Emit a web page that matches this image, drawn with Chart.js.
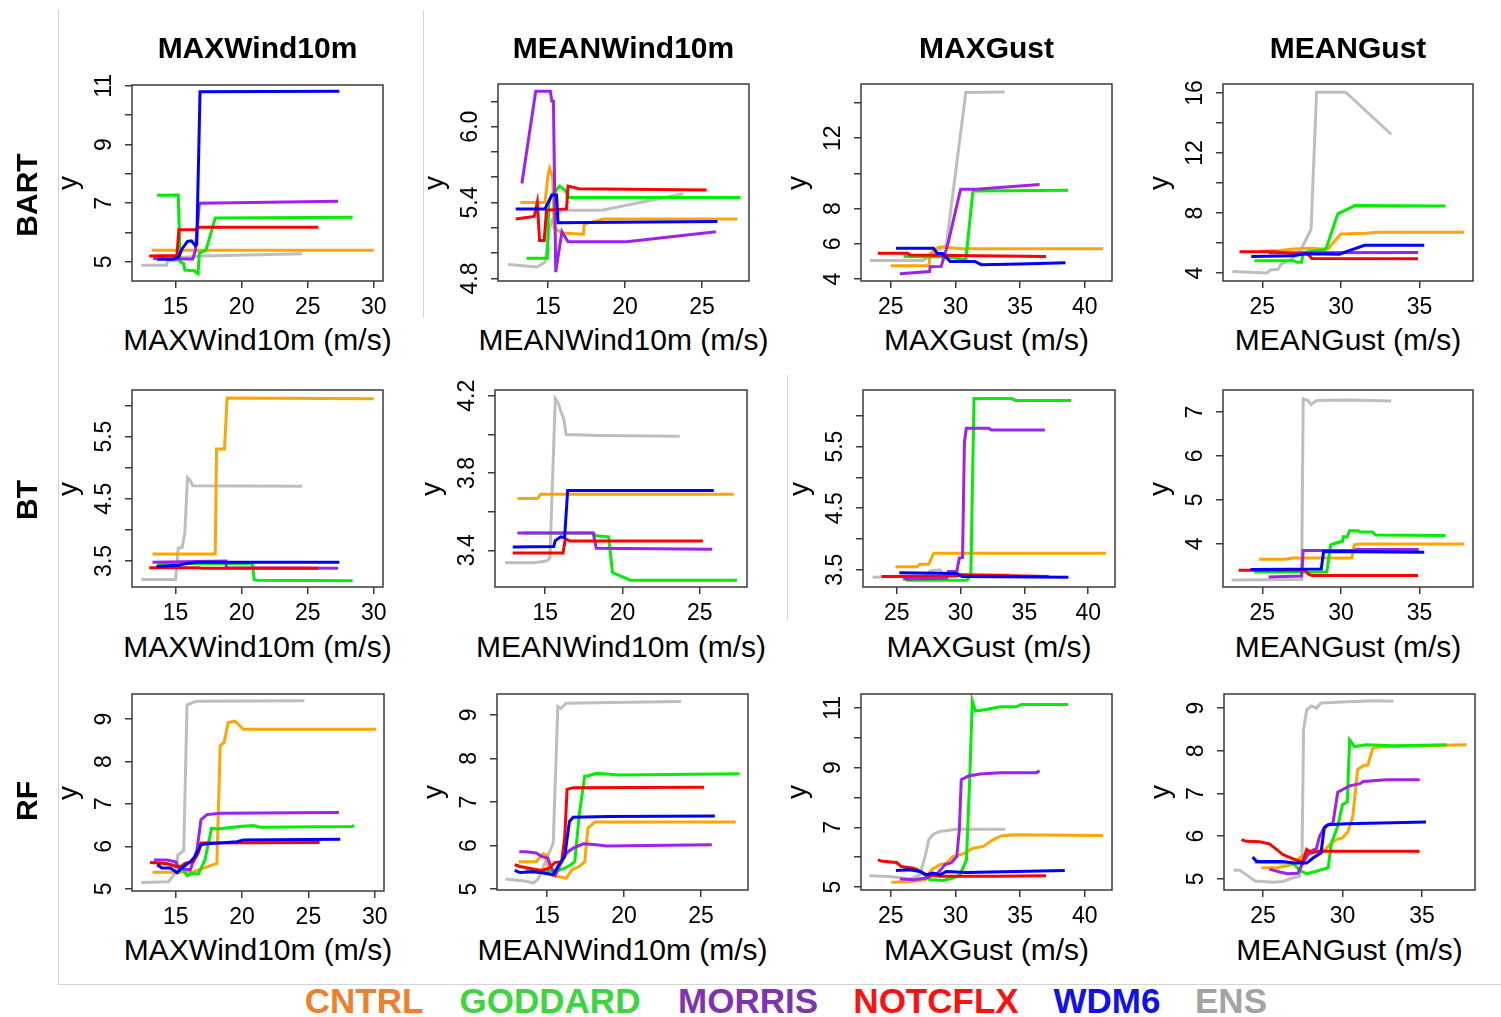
<!DOCTYPE html>
<html>
<head>
<meta charset="utf-8">
<script src="https://cdn.jsdelivr.net/npm/chart.js@4.4.1/dist/chart.umd.min.js"></script>
<style>
  body { margin: 0; background: #fff; width: 1501px; height: 1017px; position: relative; overflow: hidden; font-family: "Liberation Sans", Arial, sans-serif; }
  canvas { position: absolute; }
  .t { position: absolute; white-space: nowrap; color: #000; transform: translate(-50%, -50%); line-height: 1; }
  .v { transform: translate(-50%, -50%) rotate(-90deg); }
  .b { font-weight: bold; }
  .sep { position: absolute; background: #d4d4d4; }
</style>
</head>
<body>
<script>
// model names and legend
const models = ["CNTRL", "GODDARD", "MORRIS", "NOTCFLX", "WDM6", "ENS"];
const columns = ["MAXWind10m", "MEANWind10m", "MAXGust", "MEANGust"];
const rows = ["BART", "BT", "RF"];

// x ticks per predictor
const windTicks = [15, 20, 25, 30];
const meanWindTicks = [15, 20, 25];
const gustTicks = [25, 30, 35, 40];
const meanGustTicks = [25, 30, 35];

// ---- BART ----
const bartMaxWind_CNTRL = [[13.2,5.4],[15.1,5.4],[15.3,5.47],[15.6,5.4],[30.0,5.4]];
const bartMaxWind_GODDARD = [[13.6,7.27],[15.2,7.28],[15.35,5.0],[15.6,4.95],[15.7,4.72],[16.4,4.7],[16.7,4.6],[16.8,5.3],[17.3,5.4],[18.0,6.5],[28.4,6.52]];
const bartMaxWind_MORRIS = [[13.3,5.12],[15.4,5.1],[16.3,5.1],[16.5,5.4],[16.8,7.0],[27.3,7.07]];
const bartMaxWind_NOTCFLX = [[13.0,5.2],[15.1,5.22],[15.25,6.1],[16.5,6.1],[16.8,6.18],[25.8,6.18]];
const bartMaxWind_WDM6 = [[13.6,5.09],[14.8,5.09],[15.2,5.15],[15.5,5.45],[15.9,5.7],[16.2,5.72],[16.5,5.55],[16.6,5.6],[16.85,10.8],[27.4,10.82]];
const bartMaxWind_ENS = [[12.4,4.89],[14.3,4.89],[14.4,5.03],[15.2,5.05],[15.5,5.15],[17.0,5.2],[24.6,5.28]];

const bartMeanWind_CNTRL = [[13.2,5.4],[14.8,5.4],[15.0,5.62],[15.1,5.67],[15.3,5.6],[15.4,5.2],[15.9,5.16],[17.3,5.15],[17.35,5.23],[18.6,5.27],[27.3,5.27]];
const bartMeanWind_GODDARD = [[13.6,4.96],[14.95,4.96],[15.05,5.4],[15.2,5.45],[15.75,5.53],[16.1,5.5],[16.35,5.44],[27.5,5.44]];
const bartMeanWind_MORRIS = [[13.3,5.55],[14.2,6.28],[15.15,6.28],[15.25,6.2],[15.35,6.2],[15.5,4.85],[15.9,5.17],[16.3,5.09],[20.1,5.09],[25.9,5.17]];
const bartMeanWind_NOTCFLX = [[12.9,5.27],[14.1,5.29],[14.3,5.4],[14.45,5.1],[14.75,5.1],[14.9,5.34],[16.2,5.35],[16.3,5.53],[17.0,5.51],[25.3,5.5]];
const bartMeanWind_WDM6 = [[12.9,5.35],[14.8,5.35],[15.25,5.46],[15.55,5.46],[15.65,5.24],[26.0,5.25]];
const bartMeanWind_ENS = [[12.4,4.91],[14.3,4.89],[14.8,4.93],[15.1,5.2],[15.3,5.27],[15.7,5.32],[16.0,5.34],[18.5,5.34],[23.8,5.47]];

const bartMaxGust_CNTRL = [[25.0,4.75],[27.95,4.75],[28.05,5.45],[28.7,5.8],[29.2,5.8],[30.5,5.72],[41.4,5.72]];
const bartMaxGust_GODDARD = [[26.0,5.28],[29.5,5.25],[30.8,5.1],[31.35,9.0],[38.7,9.05]];
const bartMaxGust_MORRIS = [[25.7,4.3],[28.0,4.43],[28.05,4.7],[28.9,4.72],[29.4,5.95],[30.4,9.1],[31.6,9.1],[36.5,9.37]];
const bartMaxGust_NOTCFLX = [[24.0,5.47],[26.3,5.47],[26.5,5.37],[37.0,5.28]];
const bartMaxGust_WDM6 = [[25.4,5.75],[28.3,5.75],[28.6,5.45],[29.0,5.45],[29.6,5.0],[31.5,5.0],[32.0,4.82],[35.0,4.85],[38.5,4.93]];
const bartMaxGust_ENS = [[23.4,5.05],[27.5,5.05],[29.3,5.95],[30.8,14.6],[33.8,14.62]];

const bartMeanGust_CNTRL = [[24.85,5.45],[26.1,5.5],[27.0,5.6],[28.0,5.66],[28.9,5.6],[29.2,5.65],[30.0,6.6],[31.6,6.65],[32.3,6.72],[37.85,6.72]];
const bartMeanGust_GODDARD = [[24.5,4.82],[27.0,4.82],[27.2,4.72],[27.5,4.72],[27.6,5.37],[28.9,5.55],[29.05,5.6],[29.8,7.95],[30.9,8.5],[36.65,8.47]];
const bartMeanGust_MORRIS = [[25.4,5.35],[34.9,5.37]];
const bartMeanGust_NOTCFLX = [[23.55,5.42],[25.7,5.42],[27.2,5.27],[27.9,5.27],[28.15,4.97],[34.9,4.95]];
const bartMeanGust_WDM6 = [[24.3,5.1],[27.0,5.15],[27.6,5.27],[29.0,5.27],[29.9,5.26],[30.4,5.45],[31.5,5.85],[35.3,5.85]];
const bartMeanGust_ENS = [[23.1,4.11],[24.2,4.05],[25.3,4.0],[25.5,4.2],[26.0,4.25],[26.2,4.6],[26.8,4.9],[27.4,5.45],[28.1,6.9],[28.45,16.05],[30.3,16.05],[33.2,13.25]];

// ---- BT ----
const btMaxWind_CNTRL = [[13.25,3.61],[18.0,3.61],[18.1,5.3],[18.7,5.3],[18.9,6.12],[30.0,6.11]];
const btMaxWind_GODDARD = [[13.6,3.46],[20.8,3.46],[20.95,3.2],[21.2,3.19],[28.4,3.18]];
const btMaxWind_MORRIS = [[13.25,3.48],[18.8,3.5],[18.85,3.39],[27.3,3.38]];
const btMaxWind_NOTCFLX = [[13.0,3.39],[16.8,3.39],[17.0,3.38],[25.8,3.38]];
const btMaxWind_WDM6 = [[13.55,3.41],[15.3,3.43],[15.6,3.45],[16.6,3.48],[27.4,3.48]];
const btMaxWind_ENS = [[12.4,3.2],[15.0,3.2],[15.2,3.7],[15.5,3.72],[15.7,3.95],[15.9,4.84],[16.1,4.8],[16.3,4.71],[24.6,4.7]];

const btMeanWind_CNTRL = [[13.2,3.668],[14.5,3.668],[14.7,3.69],[27.2,3.69]];
const btMeanWind_GODDARD = [[13.6,3.49],[18.1,3.49],[18.3,3.475],[19.1,3.47],[19.35,3.285],[20.5,3.245],[27.4,3.245]];
const btMeanWind_MORRIS = [[13.2,3.49],[18.1,3.49],[18.3,3.41],[25.8,3.405]];
const btMeanWind_NOTCFLX = [[12.9,3.386],[16.15,3.386],[16.3,3.46],[16.6,3.448],[25.2,3.448]];
const btMeanWind_WDM6 = [[12.9,3.417],[15.55,3.42],[15.65,3.45],[16.0,3.47],[16.25,3.465],[16.45,3.71],[25.9,3.71]];
const btMeanWind_ENS = [[12.4,3.335],[14.25,3.335],[15.1,3.345],[15.3,3.36],[15.65,4.185],[15.85,4.16],[16.05,4.11],[16.2,4.08],[16.35,4.0],[18.5,3.995],[23.7,3.99]];

const btMaxGust_CNTRL = [[24.9,3.55],[26.6,3.55],[26.8,3.59],[27.5,3.59],[27.9,3.77],[41.4,3.77]];
const btMaxGust_GODDARD = [[25.7,3.33],[30.5,3.33],[30.8,3.42],[31.05,6.28],[34.0,6.28],[34.3,6.25],[38.65,6.25]];
const btMaxGust_MORRIS = [[25.5,3.35],[28.9,3.36],[29.05,3.47],[29.7,3.47],[29.9,3.69],[30.15,3.7],[30.3,5.58],[30.45,5.8],[32.2,5.8],[32.4,5.77],[36.6,5.77]];
const btMaxGust_NOTCFLX = [[23.8,3.39],[29.7,3.4],[30.0,3.42],[36.9,3.39]];
const btMaxGust_WDM6 = [[25.2,3.45],[29.7,3.44],[30.1,3.39],[38.45,3.38]];
const btMaxGust_ENS = [[23.1,3.38],[27.3,3.4],[27.6,3.48],[28.4,3.5],[28.6,3.42],[33.8,3.42]];

const btMeanGust_CNTRL = [[24.8,3.65],[26.5,3.65],[26.9,3.68],[30.7,3.68],[30.85,3.98],[31.2,4.0],[37.85,4.0]];
const btMeanGust_GODDARD = [[24.5,3.36],[29.1,3.36],[29.35,3.98],[29.7,4.02],[30.1,4.06],[30.15,4.16],[30.4,4.16],[30.55,4.3],[31.1,4.3],[31.2,4.27],[32.0,4.27],[32.2,4.2],[36.65,4.19]];
const btMeanGust_MORRIS = [[25.4,3.25],[27.5,3.27],[27.6,3.85],[30.8,3.85],[31.0,3.87],[34.95,3.87]];
const btMeanGust_NOTCFLX = [[23.5,3.4],[27.7,3.4],[27.95,3.31],[28.15,3.28],[34.9,3.28]];
const btMeanGust_WDM6 = [[24.25,3.42],[28.75,3.43],[28.9,3.83],[35.3,3.81]];
const btMeanGust_ENS = [[23.05,3.18],[27.5,3.19],[27.6,7.3],[27.9,7.26],[28.1,7.17],[28.45,7.26],[30.5,7.27],[33.2,7.25]];

// ---- RF ----
const rfMaxWind_CNTRL = [[13.25,5.39],[16.2,5.39],[16.85,5.46],[17.85,5.57],[18.1,5.6],[18.35,8.37],[18.65,8.45],[18.95,8.92],[19.45,8.95],[20.1,8.76],[30.1,8.76]];
const rfMaxWind_GODDARD = [[13.6,5.6],[15.0,5.56],[15.4,5.52],[15.85,5.31],[16.2,5.36],[16.7,5.35],[17.2,5.68],[17.7,6.43],[18.1,6.41],[19.85,6.47],[20.85,6.49],[21.4,6.45],[28.3,6.47],[28.45,6.5]];
const rfMaxWind_MORRIS = [[13.35,5.68],[14.35,5.68],[15.0,5.64],[15.2,5.5],[15.6,5.47],[16.1,5.45],[16.6,5.92],[16.9,6.63],[17.35,6.75],[18.35,6.78],[27.3,6.8]];
const rfMaxWind_NOTCFLX = [[13.05,5.62],[14.3,5.6],[15.0,5.53],[15.4,5.53],[15.7,5.6],[16.35,5.65],[16.7,5.85],[16.9,6.08],[25.85,6.09]];
const rfMaxWind_WDM6 = [[13.6,5.57],[13.95,5.49],[14.6,5.49],[15.1,5.38],[15.45,5.49],[16.1,5.64],[16.45,5.76],[16.9,6.04],[17.35,6.06],[19.6,6.11],[20.1,6.15],[27.4,6.17]];
const rfMaxWind_ENS = [[12.4,5.15],[14.45,5.17],[15.05,5.4],[15.15,5.8],[15.6,5.9],[15.85,9.33],[16.2,9.38],[16.6,9.42],[24.7,9.43]];

const rfMeanWind_CNTRL = [[13.15,5.63],[14.3,5.63],[14.75,5.81],[15.0,5.78],[15.1,5.37],[15.4,5.31],[16.25,5.25],[16.6,5.44],[17.1,5.52],[17.45,5.63],[17.65,6.4],[18.1,6.54],[27.25,6.54]];
const rfMeanWind_GODDARD = [[13.6,5.42],[15.15,5.41],[15.6,5.41],[16.15,5.48],[16.55,5.56],[16.8,5.63],[17.1,6.74],[17.45,7.6],[17.65,7.6],[18.2,7.66],[19.7,7.62],[27.5,7.65]];
const rfMeanWind_MORRIS = [[13.2,5.86],[13.65,5.86],[14.3,5.83],[14.65,5.75],[15.05,5.71],[15.3,5.48],[15.55,5.33],[15.9,5.6],[16.25,5.83],[16.7,5.94],[17.35,6.04],[18.2,6.02],[18.85,5.99],[25.7,6.02]];
const rfMeanWind_NOTCFLX = [[12.9,5.56],[13.25,5.52],[14.1,5.46],[14.65,5.43],[15.15,5.48],[15.5,5.61],[15.95,5.63],[16.15,6.2],[16.3,7.29],[16.7,7.33],[25.2,7.34]];
const rfMeanWind_WDM6 = [[12.9,5.43],[13.25,5.38],[14.1,5.4],[14.75,5.37],[15.4,5.33],[15.7,5.52],[16.15,5.75],[16.45,6.55],[16.7,6.65],[19.0,6.67],[25.9,6.68]];
const rfMeanWind_ENS = [[12.3,5.23],[13.65,5.18],[14.1,5.14],[14.4,5.22],[14.75,5.5],[15.4,6.06],[15.7,9.19],[15.9,9.15],[16.25,9.27],[18.0,9.28],[23.7,9.31]];

const rfMaxGust_CNTRL = [[25.05,5.16],[26.45,5.18],[27.65,5.24],[28.15,5.58],[28.8,5.75],[29.3,5.8],[29.8,6.02],[30.6,6.11],[31.35,6.3],[32.15,6.36],[32.9,6.58],[33.55,6.71],[34.45,6.75],[41.4,6.73]];
const rfMaxGust_GODDARD = [[25.95,5.58],[27.0,5.6],[27.4,5.5],[28.0,5.25],[29.05,5.22],[29.8,5.3],[30.35,5.41],[30.85,5.91],[31.1,8.6],[31.3,11.24],[31.55,10.9],[32.4,10.95],[33.45,11.04],[34.7,11.04],[35.1,11.12],[38.7,11.12]];
const rfMaxGust_MORRIS = [[25.7,5.27],[26.75,5.24],[27.75,5.3],[28.65,5.47],[29.2,5.75],[29.7,5.82],[30.1,6.02],[30.3,6.92],[30.45,8.6],[31.0,8.72],[31.9,8.79],[33.45,8.83],[36.25,8.83],[36.5,8.9]];
const rfMaxGust_NOTCFLX = [[24.0,5.91],[24.35,5.86],[25.45,5.82],[25.8,5.69],[26.75,5.63],[27.25,5.52],[27.75,5.41],[28.8,5.36],[33.0,5.36],[37.0,5.38]];
const rfMaxGust_WDM6 = [[25.4,5.55],[26.45,5.58],[27.25,5.52],[27.75,5.41],[28.25,5.47],[28.8,5.41],[29.3,5.52],[30.85,5.49],[38.45,5.55]];
const rfMaxGust_ENS = [[23.35,5.38],[24.9,5.35],[26.5,5.27],[27.25,5.41],[27.65,6.02],[27.95,6.6],[28.3,6.77],[28.8,6.86],[30.1,6.94],[33.85,6.94]];

const rfMeanGust_CNTRL = [[24.9,5.26],[25.85,5.26],[26.45,5.3],[26.9,5.34],[27.3,5.49],[27.75,5.61],[28.15,5.68],[28.75,5.63],[29.2,5.8],[29.6,5.92],[30.0,5.96],[30.35,6.11],[30.65,6.47],[30.95,7.56],[31.3,7.65],[31.6,7.67],[31.9,8.06],[32.3,8.09],[33.2,8.1],[37.8,8.14]];
const rfMeanGust_GODDARD = [[24.5,5.39],[26.9,5.37],[27.3,5.2],[27.75,5.12],[28.35,5.18],[29.1,5.26],[29.3,5.84],[29.7,6.23],[30.0,6.74],[30.3,6.8],[30.45,8.26],[30.75,8.1],[31.5,8.14],[33.2,8.12],[36.55,8.14]];
const rfMeanGust_MORRIS = [[25.4,5.23],[26.05,5.16],[26.55,5.12],[27.2,5.13],[27.4,5.3],[27.75,5.53],[28.15,5.67],[28.35,5.7],[28.55,5.99],[28.9,6.23],[29.4,6.31],[29.7,7.03],[30.05,7.1],[30.45,7.18],[31.1,7.23],[31.3,7.28],[32.75,7.32],[34.85,7.32]];
const rfMeanGust_NOTCFLX = [[23.65,5.92],[23.95,5.88],[24.8,5.87],[25.4,5.82],[25.85,5.69],[26.25,5.57],[26.9,5.47],[27.5,5.39],[27.75,5.69],[28.05,5.61],[28.55,5.65],[34.85,5.65]];
const rfMeanGust_WDM6 = [[24.35,5.51],[24.6,5.41],[26.25,5.41],[26.9,5.37],[27.75,5.37],[28.15,5.49],[28.65,5.61],[28.85,6.19],[29.1,6.27],[30.25,6.29],[35.25,6.33]];
const rfMeanGust_ENS = [[23.15,5.2],[23.55,5.2],[23.95,5.1],[24.5,4.95],[25.65,4.92],[26.25,4.94],[26.85,5.02],[27.3,5.06],[27.45,5.37],[27.55,8.49],[27.75,8.96],[28.05,9.05],[28.35,9.0],[28.65,9.12],[30.0,9.14],[31.9,9.17],[33.2,9.16]];

// styles
const lineColors = ["#FFA500", "#00EE00", "#A020F0", "#FF0000", "#0000FF", "#BEBEBE"];
const legendColors = ["#EE7F2D", "#3CD63C", "#7E33B2", "#FF1010", "#1010F0", "#A3A3A3"];
const drawOrder = [4, 3, 2, 1, 0, 5];
const font = "Liberation Sans";

// panel layout: plot box [left, top, width, height], axis ranges, ticks
const panels = [
  { box: [132, 85, 251, 196], x: [11.7, 30.7], y: [4.35, 11.03], xt: windTicks, yt: [5,6,7,8,9,10,11], yl: [5,7,9,11],
    s: [bartMaxWind_CNTRL, bartMaxWind_GODDARD, bartMaxWind_MORRIS, bartMaxWind_NOTCFLX, bartMaxWind_WDM6, bartMaxWind_ENS] },
  { box: [498, 84, 251, 197], x: [11.75, 28.05], y: [4.78, 6.337], xt: meanWindTicks, yt: [4.8,5.0,5.2,5.4,5.6,5.8,6.0,6.2], yl: [4.8,5.4,6.0],
    s: [bartMeanWind_CNTRL, bartMeanWind_GODDARD, bartMeanWind_MORRIS, bartMeanWind_NOTCFLX, bartMeanWind_WDM6, bartMeanWind_ENS] },
  { box: [861, 84, 251, 197], x: [22.7, 42.1], y: [3.89, 15.08], xt: gustTicks, yt: [4,6,8,10,12,14], yl: [4,6,8,12],
    s: [bartMaxGust_CNTRL, bartMaxGust_GODDARD, bartMaxGust_MORRIS, bartMaxGust_NOTCFLX, bartMaxGust_WDM6, bartMaxGust_ENS] },
  { box: [1223, 84, 250, 197], x: [22.5, 38.4], y: [3.47, 16.6], xt: meanGustTicks, yt: [4,6,8,10,12,14,16], yl: [4,8,12,16],
    s: [bartMeanGust_CNTRL, bartMeanGust_GODDARD, bartMeanGust_MORRIS, bartMeanGust_NOTCFLX, bartMeanGust_WDM6, bartMeanGust_ENS] },

  { box: [132, 390, 251, 197], x: [11.7, 30.7], y: [3.08, 6.25], xt: windTicks, yt: [3.5,4,4.5,5,5.5,6], yl: [3.5,4.5,5.5],
    s: [btMaxWind_CNTRL, btMaxWind_GODDARD, btMaxWind_MORRIS, btMaxWind_NOTCFLX, btMaxWind_WDM6, btMaxWind_ENS] },
  { box: [495, 390, 252, 197], x: [11.75, 28.05], y: [3.21, 4.23], xt: meanWindTicks, yt: [3.4,3.6,3.8,4.0,4.2], yl: [3.4,3.8,4.2],
    s: [btMeanWind_CNTRL, btMeanWind_GODDARD, btMeanWind_MORRIS, btMeanWind_NOTCFLX, btMeanWind_WDM6, btMeanWind_ENS] },
  { box: [863, 390, 252, 197], x: [22.35, 42.1], y: [3.22, 6.42], xt: gustTicks, yt: [3.5,4,4.5,5,5.5,6], yl: [3.5,4.5,5.5],
    s: [btMaxGust_CNTRL, btMaxGust_GODDARD, btMaxGust_MORRIS, btMaxGust_NOTCFLX, btMaxGust_WDM6, btMaxGust_ENS] },
  { box: [1223, 390, 250, 197], x: [22.5, 38.4], y: [3.02, 7.5], xt: meanGustTicks, yt: [4,5,6,7], yl: [4,5,6,7],
    s: [btMeanGust_CNTRL, btMeanGust_GODDARD, btMeanGust_MORRIS, btMeanGust_NOTCFLX, btMeanGust_WDM6, btMeanGust_ENS] },

  { box: [132, 694, 252, 197], x: [11.7, 30.7], y: [4.95, 9.59], xt: windTicks, yt: [5,6,7,8,9], yl: [5,6,7,8,9],
    s: [rfMaxWind_CNTRL, rfMaxWind_GODDARD, rfMaxWind_MORRIS, rfMaxWind_NOTCFLX, rfMaxWind_WDM6, rfMaxWind_ENS] },
  { box: [497, 694, 251, 196], x: [11.75, 28.05], y: [4.98, 9.48], xt: meanWindTicks, yt: [5,6,7,8,9], yl: [5,6,7,8,9],
    s: [rfMeanWind_CNTRL, rfMeanWind_GODDARD, rfMeanWind_MORRIS, rfMeanWind_NOTCFLX, rfMeanWind_WDM6, rfMeanWind_ENS] },
  { box: [861, 694, 251, 196], x: [22.7, 42.1], y: [4.9, 11.47], xt: gustTicks, yt: [5,6,7,8,9,10,11], yl: [5,7,9,11],
    s: [rfMaxGust_CNTRL, rfMaxGust_GODDARD, rfMaxGust_MORRIS, rfMaxGust_NOTCFLX, rfMaxGust_WDM6, rfMaxGust_ENS] },
  { box: [1224, 694, 251, 196], x: [22.55, 38.33], y: [4.74, 9.33], xt: meanGustTicks, yt: [5,6,7,8,9], yl: [5,6,7,8,9],
    s: [rfMeanGust_CNTRL, rfMeanGust_GODDARD, rfMeanGust_MORRIS, rfMeanGust_NOTCFLX, rfMeanGust_WDM6, rfMeanGust_ENS] },
];

const Y_W = 75, X_H = 40, PAD_T = 22, PAD_R = 22;

// box around plot + rotated y tick labels (R style)
const rStyle = {
  id: "rStyle",
  afterDraw(chart, args, opts) {
    const { ctx, chartArea: a } = chart;
    ctx.save();
    ctx.strokeStyle = "#3a3a3a";
    ctx.lineWidth = 1.5;
    ctx.strokeRect(a.left, a.top, a.right - a.left, a.bottom - a.top);
    ctx.fillStyle = "#000";
    ctx.font = "23px " + font;
    ctx.textAlign = "center";
    ctx.textBaseline = "middle";
    opts.labels.forEach((v) => {
      const y = chart.scales.y.getPixelForValue(v);
      ctx.save();
      ctx.translate(a.left - 27, y);
      ctx.rotate(-Math.PI / 2);
      ctx.fillText(opts.dec ? v.toFixed(1) : String(v), 0, 0);
      ctx.restore();
    });
    ctx.restore();
  },
};

function addText(txt, x, y, size, cls, color) {
  const d = document.createElement("div");
  d.className = "t " + (cls || "");
  d.textContent = txt;
  d.style.left = x + "px";
  d.style.top = y + "px";
  d.style.fontSize = size + "px";
  if (color) d.style.color = color;
  document.body.appendChild(d);
}

function addSep(x, y, w, h) {
  const d = document.createElement("div");
  d.className = "sep";
  Object.assign(d.style, { left: x + "px", top: y + "px", width: w + "px", height: h + "px" });
  document.body.appendChild(d);
}

addSep(58, 10, 1, 975);
addSep(58, 984, 1443, 1);
addSep(423, 10, 1, 308);
addSep(787, 375, 1, 245);

const xTitleY = [340, 647, 950];
const rowLabelY = [195, 500, 801];

panels.forEach((p, k) => {
  const col = k % 4, row = Math.floor(k / 4);
  const [bl, bt, bw, bh] = p.box;
  const cv = document.createElement("canvas");
  const W = bw + Y_W + PAD_R, H = bh + PAD_T + X_H;
  cv.width = W; cv.height = H;
  cv.style.left = (bl - Y_W) + "px";
  cv.style.top = (bt - PAD_T) + "px";
  cv.style.width = W + "px";
  cv.style.height = H + "px";
  document.body.appendChild(cv);

  const dec = p.yl.some((v) => v % 1 !== 0);

  new Chart(cv, {
    type: "line",
    data: {
      datasets: models.map((m, i) => ({
        label: m,
        data: p.s[i],
        borderColor: lineColors[i],
        borderWidth: 3,
        pointRadius: 0,
        tension: 0,
        fill: false,
        order: drawOrder[i],
      })),
    },
    options: {
      responsive: false,
      animation: false,
      devicePixelRatio: 1,
      layout: { padding: { top: PAD_T, right: PAD_R, left: 0, bottom: 0 } },
      plugins: { legend: { display: false }, tooltip: { enabled: false }, rStyle: { labels: p.yl, dec } },
      scales: {
        x: {
          type: "linear",
          min: p.x[0],
          max: p.x[1],
          afterBuildTicks: (s) => { s.ticks = p.xt.map((v) => ({ value: v })); },
          afterFit: (s) => { s.height = X_H; },
          grid: { drawOnChartArea: false, tickLength: 7, color: "#3a3a3a", lineWidth: 1.5 },
          border: { display: false },
          ticks: { color: "#000", font: { family: font, size: 23 }, padding: 6, maxRotation: 0, autoSkip: false },
        },
        y: {
          type: "linear",
          min: p.y[0],
          max: p.y[1],
          afterBuildTicks: (s) => { s.ticks = p.yt.map((v) => ({ value: v })); },
          afterFit: (s) => { s.width = Y_W; },
          grid: { drawOnChartArea: false, tickLength: 7, color: "#3a3a3a", lineWidth: 1.5 },
          border: { display: false },
          ticks: { display: false },
        },
      },
    },
    plugins: [rStyle],
  });

  // axis titles
  addText("y", bl - 64, bt + bh / 2, 28, "v");
  addText(columns[col] + " (m/s)", bl + bw / 2, xTitleY[row], 30);
  if (row === 0) addText(columns[col], bl + bw / 2, 48, 30, "b");
  if (col === 0) addText(rows[row], 27, rowLabelY[row], 30, "b v");
});

// legend
const legendX = [364, 550, 748, 936, 1107, 1231];
models.forEach((m, i) => addText(m, legendX[i], 1000, 35, "b", legendColors[i]));
</script>
</body>
</html>
